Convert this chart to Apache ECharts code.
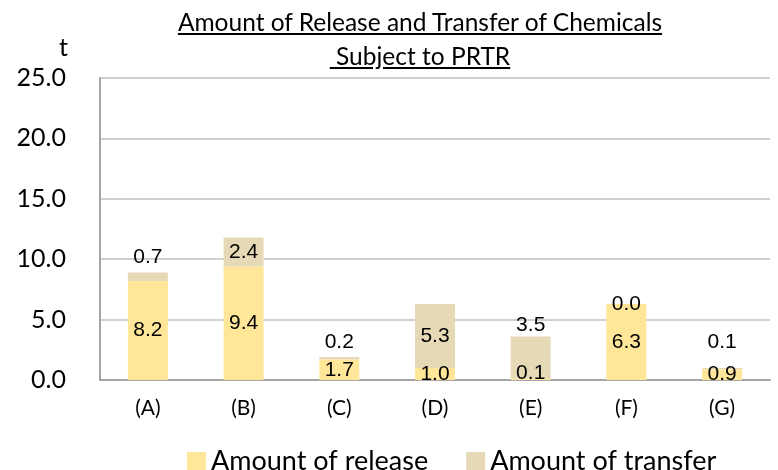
<!DOCTYPE html>
<html>
<head>
<meta charset="utf-8">
<script src="https://cdn.jsdelivr.net/npm/echarts@6/dist/echarts.min.js"></script>
<style>
  html, body { margin: 0; padding: 0; background: #fff; }
  #wrap { position: relative; width: 778px; height: 470px; }
  #chart { width: 778px; height: 470px; }
  #title {
    position: absolute; left: 0; top: 5px; width: 840px;
    text-align: center; font-family: Lato, "Open Sans", sans-serif;
    font-size: 24.5px; line-height: 34px; color: #000;
  }
  #title span { text-decoration: underline; }
</style>
</head>
<body>
<div id="wrap">
  <div id="chart"></div>
  <div id="title"><span>Amount of Release and Transfer of Chemicals</span><br><span>&nbsp;Subject to PRTR</span></div>
</div>
<script>
  // categories and values
  const categories = ['(A)', '(B)', '(C)', '(D)', '(E)', '(F)', '(G)']
  const releaseValues = [8.2, 9.4, 1.7, 1.0, 0.1, 6.3, 0.9]
  const transferValues = [0.7, 2.4, 0.2, 5.3, 3.5, 0.0, 0.1]
  const yTicks = [0, 5, 10, 15, 20, 25]

  const labelFont = { fontFamily: 'Liberation Sans', fontSize: 21, color: '#000' }

  // transfer labels that sit above the bar instead of inside it
  const transferAbove = { 0: 5, 2: 4, 4: 1, 6: 15 }

  let chart = echarts.init(document.getElementById('chart'))
  chart.setOption({
    animation: false,
    grid: { left: 100, right: 8, top: 78, bottom: 90 },
    legend: {
      data: ['Amount of release', 'Amount of transfer'],
      left: 182,
      top: 443,
      itemWidth: 19,
      itemHeight: 19,
      itemGap: 38,
      icon: 'rect',
      textStyle: { fontFamily: 'Lato', fontSize: 27, color: '#000' }
    },
    xAxis: {
      type: 'category',
      data: categories,
      axisLine: { lineStyle: { color: '#a6a6a6', width: 2 } },
      axisTick: { show: false },
      axisLabel: { margin: 18, fontFamily: 'Lato', fontSize: 21, color: '#000' }
    },
    yAxis: {
      type: 'value',
      min: yTicks[0],
      max: yTicks[yTicks.length - 1],
      interval: 5,
      name: 't',
      nameGap: 18,
      nameTextStyle: { fontFamily: 'Lato', fontSize: 25, color: '#000', align: 'right', padding: [0, 32, 0, 0] },
      axisLine: { show: true, lineStyle: { color: '#a6a6a6', width: 2 } },
      axisTick: { show: false },
      splitLine: { lineStyle: { color: '#c0c0c0', width: 1.5 } },
      axisLabel: {
        margin: 34,
        fontFamily: 'Lato', fontSize: 25, color: '#000',
        formatter: v => v.toFixed(1)
      }
    },
    series: [
      {
        name: 'Amount of release',
        type: 'bar',
        stack: 'total',
        barWidth: 40,
        itemStyle: { color: '#ffe699' },
        label: {
          show: true, position: 'inside', ...labelFont,
          formatter: p => p.value.toFixed(1)
        },
        data: releaseValues.map((v, i) => i === 4
          ? { value: v, label: { offset: [0, -6] } }
          : v)
      },
      {
        name: 'Amount of transfer',
        type: 'bar',
        stack: 'total',
        barWidth: 40,
        itemStyle: { color: '#e6dab6' },
        label: {
          show: true, position: 'inside', ...labelFont,
          formatter: p => p.value.toFixed(1)
        },
        data: transferValues.map((v, i) => transferAbove[i] !== undefined
          ? { value: v, label: { position: 'top', distance: transferAbove[i] } }
          : v)
      }
    ]
  })
</script>
</body>
</html>
